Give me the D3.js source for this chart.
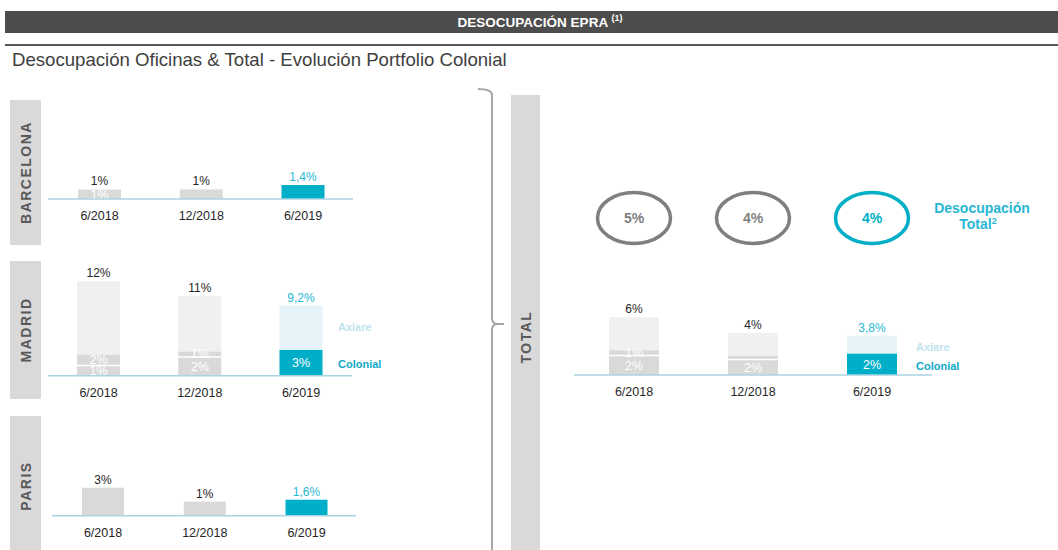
<!DOCTYPE html>
<html>
<head>
<meta charset="utf-8">
<script src="https://cdn.jsdelivr.net/npm/d3@7"></script>
<style>
  body { margin: 0; background: #fff; }
  svg { display: block; font-family: "Liberation Sans", Arial, sans-serif; }
</style>
</head>
<body>
<div id="chart"></div>
<script>
// periods shared by every panel
const dates = ["6/2018", "12/2018", "6/2019"]

// Barcelona (bottom seg, middle seg, light top seg), % vacancy
const bcnBase = [0.9, 0.93, 1.4]
const bcnMid = [0, 0, 0]
const bcnTop = [0.13, 0.1, 0]
const bcnTotalLabels = ["1%", "1%", "1,4%"]
const bcnBaseLabels = ["1%", "", ""]
const bcnMidLabels = ["", "", ""]

// Madrid
const madBase = [1.3, 2.4, 3.3]
const madMid = [1.4, 0.7, 0]
const madTop = [9.4, 7.1, 5.7]
const madTotalLabels = ["12%", "11%", "9,2%"]
const madBaseLabels = ["1%", "2%", "3%"]
const madMidLabels = ["2%", "1%", ""]

// Paris
const parBase = [2.8, 1.4, 1.6]
const parMid = [0, 0, 0]
const parTop = [0, 0, 0]
const parTotalLabels = ["3%", "1%", "1,6%"]
const parBaseLabels = ["", "", ""]
const parMidLabels = ["", "", ""]

// Total portfolio
const totBase = [2.0, 1.6, 2.2]
const totMid = [0.55, 0.35, 0]
const totTop = [3.4, 2.4, 1.85]
const totTotalLabels = ["6%", "4%", "3,8%"]
const totBaseLabels = ["2%", "2%", "2%"]
const totMidLabels = ["1%", "", ""]
const totVacancy = ["5%", "4%", "4%"]

const teal = "#00aec7"
const tealText = "#27b7d4"
const axiare = "#e6f3f9"
const axiareText = "#bfe2ef"
const grey = "#d9d9d9"
const greyLight = "#f0f0f0"

const W = 1058, H = 550
const svg = d3.select("#chart").append("svg").attr("width", W).attr("height", H)

// header
svg.append("rect").attr("x", 5).attr("y", 11).attr("width", W - 5).attr("height", 22).attr("fill", "#4d4d4d")
const ht = svg.append("text").attr("x", 540).attr("y", 27).attr("text-anchor", "middle")
    .attr("fill", "#fff").style("font-size", "13.5px").style("font-weight", "bold")
ht.append("tspan").text("DESOCUPACIÓN EPRA ")
ht.append("tspan").text("(1)").attr("dy", -6).style("font-size", "9px")
svg.append("line").attr("x1", 5).attr("x2", W).attr("y1", 45).attr("y2", 45)
    .attr("stroke", "#595959").attr("stroke-width", 2)
svg.append("text").attr("x", 12).attr("y", 66).attr("fill", "#404040")
    .style("font-size", "18.6px").text("Desocupación Oficinas & Total - Evolución Portfolio Colonial")

// bracket joining the city panels to the total
svg.append("path")
    .attr("d", "M478,89 Q492,89 492,95 V318 Q492,324 498,324 H504 M498,324 Q492,324 492,330 V552")
    .attr("fill", "none").attr("stroke", "#a6a6a6").attr("stroke-width", 2)

const panels = [
    {name: "BARCELONA", base: bcnBase, mid: bcnMid, top: bcnTop, tl: bcnTotalLabels, bl: bcnBaseLabels, ml: bcnMidLabels,
     tag: [10, 100, 31, 145], xr: [99.5, 303], bw: 43, y0: 199, k: 10, line: [48, 353]},
    {name: "MADRID", base: madBase, mid: madMid, top: madTop, tl: madTotalLabels, bl: madBaseLabels, ml: madMidLabels,
     tag: [10, 261, 31, 138], xr: [98.5, 301], bw: 43, y0: 375.7, k: 7.8, line: [48, 352], legend: 338},
    {name: "PARIS", base: parBase, mid: parMid, top: parTop, tl: parTotalLabels, bl: parBaseLabels, ml: parMidLabels,
     tag: [10, 416, 31, 140], xr: [103, 306.5], bw: 42, y0: 515.7, k: 10, line: [52, 356]},
    {name: "TOTAL", base: totBase, mid: totMid, top: totTop, tl: totTotalLabels, bl: totBaseLabels, ml: totMidLabels,
     tag: [511, 95, 29, 460], xr: [634, 872], bw: 50, y0: 375, k: 9.7, line: [574, 932], legend: 916}
]

panels.forEach(p => {
    const g = svg.append("g")
    // grey tag with rotated name
    g.append("rect").attr("x", p.tag[0]).attr("y", p.tag[1]).attr("width", p.tag[2]).attr("height", p.tag[3]).attr("fill", grey)
    const tagY = p.name == "TOTAL" ? 337 : p.tag[1] + p.tag[3] / 2
    g.append("text")
        .attr("transform", `translate(${p.tag[0] + p.tag[2] / 2 + 5},${tagY}) rotate(-90)`)
        .attr("text-anchor", "middle").attr("fill", "#595959")
        .style("font-size", "14px").style("font-weight", "bold").style("letter-spacing", "1.5px")
        .text(p.name)

    const x = d3.scalePoint().domain(dates).range(p.xr)
    const y = d3.scaleLinear().domain([0, 10]).range([p.y0, p.y0 - 10 * p.k])

    const rows = dates.map((d, i) => ({
        date: d, i: i, last: i == dates.length - 1,
        b: p.base[i], m: p.mid[i], t: p.top[i],
        tl: p.tl[i], bl: p.bl[i], ml: p.ml[i]
    }))

    const bar = g.selectAll(".bar").data(rows).join("g").attr("class", "bar")
    // light top segment
    bar.append("rect")
        .attr("x", d => x(d.date) - p.bw / 2).attr("width", p.bw)
        .attr("y", d => y(d.b + d.m + d.t)).attr("height", d => y(d.b + d.m) - y(d.b + d.m + d.t))
        .attr("fill", d => d.last ? axiare : greyLight)
    // middle segment
    bar.append("rect")
        .attr("x", d => x(d.date) - p.bw / 2).attr("width", p.bw)
        .attr("y", d => y(d.b + d.m)).attr("height", d => y(d.b) - y(d.b + d.m))
        .attr("fill", grey)
    // base segment
    bar.append("rect")
        .attr("x", d => x(d.date) - p.bw / 2).attr("width", p.bw)
        .attr("y", d => y(d.b)).attr("height", d => y(0) - y(d.b))
        .attr("fill", d => d.last ? teal : grey)
    // white divider between base and middle
    bar.filter(d => d.m > 0).append("line")
        .attr("x1", d => x(d.date) - p.bw / 2).attr("x2", d => x(d.date) + p.bw / 2)
        .attr("y1", d => y(d.b)).attr("y2", d => y(d.b))
        .attr("stroke", "#fff").attr("stroke-width", 1.5)

    // inside labels
    bar.append("text")
        .attr("x", d => x(d.date)).attr("y", d => (y(0) + y(d.b)) / 2 + 4.5)
        .attr("text-anchor", "middle").attr("fill", "#fff").style("font-size", "12.5px")
        .text(d => d.bl)
    bar.append("text")
        .attr("x", d => x(d.date)).attr("y", d => (y(d.b) + y(d.b + d.m)) / 2 + 4)
        .attr("text-anchor", "middle").attr("fill", "#fff").style("font-size", "12.5px")
        .text(d => d.ml)
    // total labels
    bar.append("text")
        .attr("x", d => x(d.date)).attr("y", d => y(d.b + d.m + d.t) - 4)
        .attr("text-anchor", "middle").attr("fill", d => d.last ? tealText : "#262626")
        .style("font-size", "12px")
        .text(d => d.tl)

    // baseline + date axis
    g.append("line").attr("x1", p.line[0]).attr("x2", p.line[1]).attr("y1", p.y0).attr("y2", p.y0)
        .attr("stroke", "#a9d5e3").attr("stroke-width", 1.5)
    g.selectAll(".date").data(dates).join("text").attr("class", "date")
        .attr("x", d => x(d)).attr("y", p.y0 + 21)
        .attr("text-anchor", "middle").attr("fill", "#262626").style("font-size", "12.5px")
        .text(d => d)

    if (p.legend) {
        const last = rows[rows.length - 1]
        g.append("text").attr("x", p.legend).attr("y", (y(last.b) + y(last.b + last.t)) / 2 + (p.name == "TOTAL" ? 6 : 3))
            .attr("fill", axiareText).style("font-size", "11px").style("font-weight", "bold").text("Axiare")
        g.append("text").attr("x", p.legend).attr("y", (y(0) + y(last.b)) / 2 + (p.name == "TOTAL" ? 6 : 5))
            .attr("fill", "#12a9c6").style("font-size", "11px").style("font-weight", "bold").text("Colonial")
    }

    if (p.name == "TOTAL") {
        const c = g.selectAll(".vac").data(dates.map((d, i) => ({date: d, v: totVacancy[i], last: i == dates.length - 1})))
            .join("g").attr("class", "vac")
        c.append("ellipse").attr("cx", d => x(d.date)).attr("cy", 218).attr("rx", 36.5).attr("ry", 25.5)
            .attr("fill", "none").attr("stroke", d => d.last ? teal : "#7f7f7f").attr("stroke-width", 3.5)
        c.append("text").attr("x", d => x(d.date)).attr("y", 223).attr("text-anchor", "middle")
            .attr("fill", d => d.last ? teal : "#7f7f7f").style("font-size", "14px").style("font-weight", "bold")
            .text(d => d.v)
        const lt = g.append("text").attr("x", 982).attr("y", 213).attr("text-anchor", "middle")
            .attr("fill", tealText).style("font-size", "14px").style("font-weight", "bold")
        lt.append("tspan").attr("x", 982).text("Desocupación")
        lt.append("tspan").attr("x", 978).attr("dy", 16).text("Total")
        lt.append("tspan").text("2").attr("dy", -5).style("font-size", "9px")
    }
})
</script>
</body>
</html>
